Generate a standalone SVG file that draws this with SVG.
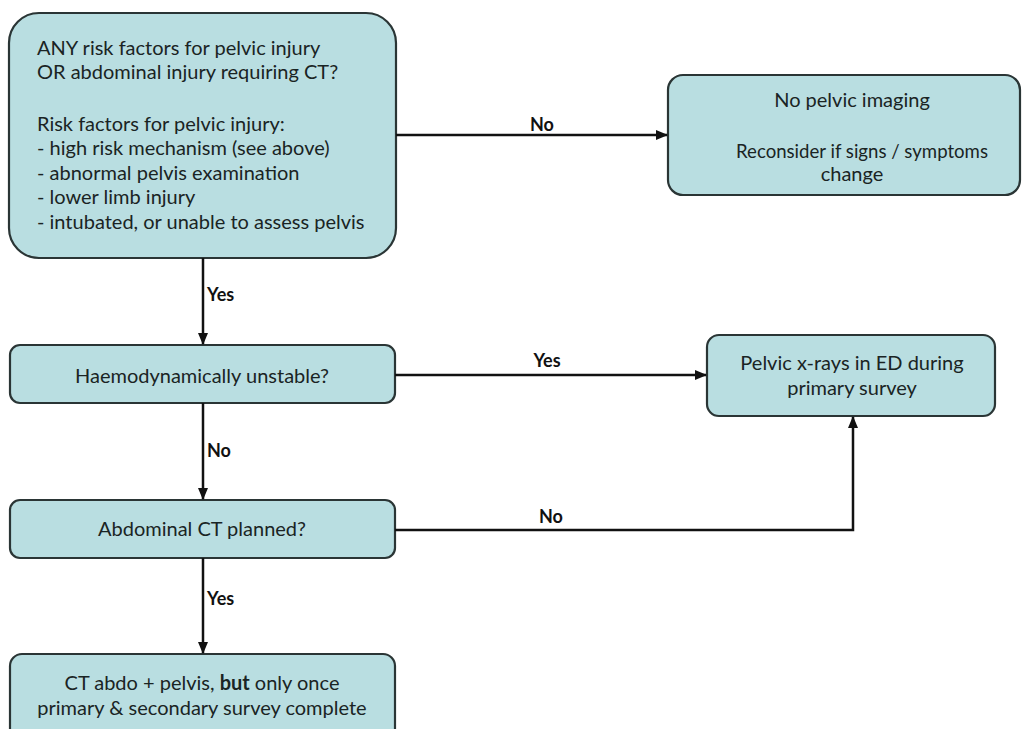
<svg xmlns="http://www.w3.org/2000/svg" width="1026" height="729" viewBox="0 0 1026 729">
<defs>
<marker id="ah" markerWidth="12" markerHeight="12" refX="11" refY="6" orient="auto" markerUnits="userSpaceOnUse">
<path d="M0,1 L12,6 L0,11 Z" fill="#111"/>
</marker>
<style>
.box{fill:#b9dee1;stroke:#2a3535;stroke-width:2.2}
.t{font-family:Lato,"Open Sans",sans-serif;font-size:20px;fill:#1a2424}
.c{text-anchor:middle}
.lbl{font-family:Lato,"Open Sans",sans-serif;font-size:18px;font-weight:bold;fill:#111}
.e{fill:none;stroke:#111;stroke-width:2.5}
</style>
</defs>
<rect width="1026" height="729" fill="#ffffff"/>
<g id="n1">
<rect class="box" x="9" y="13" width="387" height="245" rx="30"/>
<text class="t" x="37" y="55">ANY risk factors for pelvic injury</text>
<text class="t" x="37" y="79">OR abdominal injury requiring CT?</text>
<text class="t" x="37" y="131">Risk factors for pelvic injury:</text>
<text class="t" x="37" y="155">- high risk mechanism (see above)</text>
<text class="t" x="37" y="180">- abnormal pelvis examination</text>
<text class="t" x="37" y="204">- lower limb injury</text>
<text class="t" x="37" y="229">- intubated, or unable to assess pelvis</text>
</g>
<g id="n2">
<rect class="box" x="668" y="75" width="352" height="120" rx="15"/>
<text class="t c" x="852" y="107">No pelvic imaging</text>
<text class="t c" x="862" y="158" style="font-size:18.6px">Reconsider if signs / symptoms</text>
<text class="t c" x="852" y="181">change</text>
</g>
<g id="n3">
<rect class="box" x="10" y="345" width="385" height="58" rx="10"/>
<text class="t c" x="202" y="383">Haemodynamically unstable?</text>
</g>
<g id="n4">
<rect class="box" x="707" y="335" width="288" height="81" rx="12"/>
<text class="t c" x="852" y="370">Pelvic x-rays in ED during</text>
<text class="t c" x="852" y="395">primary survey</text>
</g>
<g id="n5">
<rect class="box" x="10" y="500" width="385" height="58" rx="10"/>
<text class="t c" x="202" y="536">Abdominal CT planned?</text>
</g>
<g id="n6">
<rect class="box" x="10" y="654" width="385" height="90" rx="12"/>
<text class="t c" x="202" y="690">CT abdo + pelvis, <tspan font-weight="bold">but</tspan> only once</text>
<text class="t c" x="202" y="715">primary &amp; secondary survey complete</text>
</g>
<g id="edges">
<line class="e" x1="396" y1="135" x2="667" y2="135" marker-end="url(#ah)"/>
<text class="lbl c" x="542" y="131">No</text>
<line class="e" x1="203" y1="258" x2="203" y2="344" marker-end="url(#ah)"/>
<text class="lbl" x="207" y="301">Yes</text>
<line class="e" x1="395" y1="375" x2="706" y2="375" marker-end="url(#ah)"/>
<text class="lbl c" x="547" y="367">Yes</text>
<line class="e" x1="203" y1="403" x2="203" y2="499" marker-end="url(#ah)"/>
<text class="lbl" x="207" y="457">No</text>
<polyline class="e" points="395,530 853,530 853,417" marker-end="url(#ah)"/>
<text class="lbl c" x="551" y="523">No</text>
<line class="e" x1="203" y1="558" x2="203" y2="653" marker-end="url(#ah)"/>
<text class="lbl" x="207" y="605">Yes</text>
</g>
</svg>
